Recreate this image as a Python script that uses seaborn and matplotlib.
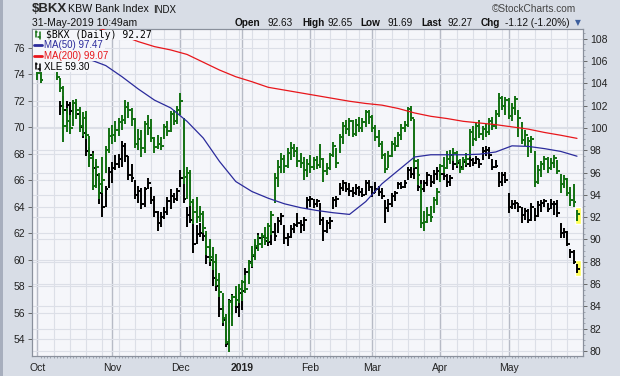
import numpy as np
import pandas as pd
import matplotlib.pyplot as plt
import seaborn as sns
from matplotlib.patches import Rectangle
from matplotlib.lines import Line2D

sns.set_theme(style='white')
plt.rcParams['font.family'] = ['Liberation Sans', 'DejaVu Sans']

# trading days shown on the chart (NYSE closed days removed)
holidays = pd.to_datetime(['2018-11-22', '2018-12-05', '2018-12-25', '2019-01-01',
                           '2019-01-21', '2019-02-18', '2019-04-19', '2019-05-27'])
days = pd.bdate_range('2018-10-01', '2019-05-31')
days = days[~days.isin(holidays)]

# $BKX daily bars (right axis)
bkx_low = [104.3, 104.0, 105.2, 105.3, 105.2, 105.1, 104.3, 103.2, 98.7, 99.6,
           99.5, 100.2, 100.8, 99.6, 99.3, 99.0, 96.5, 94.4, 94.6, 93.6,
           94.2, 96.0, 97.8, 98.6, 98.7, 99.3, 99.8, 100.4, 100.9, 100.2,
           98.2, 98.0, 97.4, 97.8, 99.4, 98.7, 97.8, 98.1, 98.0, 99.0,
           99.3, 99.6, 100.3, 100.4, 101.2, 95.0, 93.6, 93.0, 91.4, 91.5,
           91.6, 90.6, 88.6, 88.0, 87.3, 85.8, 84.8, 82.5, 80.6, 79.9,
           82.2, 84.0, 84.3, 84.5, 85.2, 86.0, 87.5, 88.2, 89.0, 89.2,
           89.5, 89.8, 90.4, 93.3, 94.7, 96.0, 96.0, 96.4, 97.1, 97.4,
           96.5, 96.4, 95.3, 95.6, 96.0, 96.2, 96.3, 96.4, 95.2, 95.8,
           96.2, 97.4, 96.4, 97.8, 98.6, 99.5, 99.3, 99.2, 99.3, 99.6,
           99.6, 100.1, 100.4, 99.6, 98.8, 98.3, 97.2, 96.0, 96.4, 97.4,
           97.9, 98.3, 98.9, 99.6, 100.1, 100.6, 96.4, 94.9, 91.0, 90.8,
           91.5, 91.6, 92.4, 93.1, 95.2, 96.0, 96.3, 96.8, 97.0, 96.6,
           96.0, 96.2, 96.7, 97.4, 98.4, 98.8, 99.1, 98.9, 99.2, 99.4,
           99.8, 99.9, 101.0, 101.6, 101.2, 100.8, 100.6, 101.2, 99.2, 98.6,
           98.4, 97.4, 97.8, 94.7, 95.0, 95.6, 96.2, 96.0, 96.2, 96.4,
           95.9, 94.2, 94.6, 93.9, 93.0, 92.9, 91.69]
bkx_high = [105.6, 105.3, 106.3, 106.6, 106.2, 105.9, 105.5, 104.5, 103.8, 101.8,
            101.2, 102.5, 102.6, 101.9, 101.4, 101.5, 99.3, 97.8, 97.2, 96.0,
            97.4, 98.4, 100.0, 100.3, 100.6, 100.9, 101.2, 102.5, 102.3, 101.8,
            100.9, 99.9, 99.8, 100.6, 101.2, 100.8, 99.2, 99.4, 99.2, 100.4,
            100.6, 101.5, 101.6, 102.0, 103.1, 100.9, 96.5, 96.2, 93.6, 93.8,
            93.0, 92.6, 90.8, 90.0, 89.3, 88.7, 87.0, 85.2, 83.3, 84.6,
            85.0, 85.8, 86.0, 86.4, 86.8, 88.2, 89.4, 90.0, 90.4, 90.6,
            91.1, 91.5, 92.6, 96.0, 97.1, 97.8, 97.6, 98.2, 98.7, 98.6,
            98.3, 97.8, 97.4, 97.2, 97.6, 97.4, 97.5, 98.6, 97.3, 96.9,
            97.8, 98.7, 98.2, 99.5, 100.5, 100.7, 100.9, 100.7, 100.8, 101.0,
            100.9, 101.6, 101.6, 101.2, 100.3, 99.8, 98.8, 97.8, 97.9, 98.8,
            99.2, 99.6, 100.4, 100.6, 101.9, 102.0, 100.8, 97.2, 95.0, 92.6,
            92.9, 93.0, 93.8, 94.6, 96.8, 97.4, 97.9, 98.0, 98.2, 97.9,
            97.2, 97.4, 97.8, 99.9, 100.2, 100.5, 100.7, 100.2, 100.4, 100.9,
            101.0, 101.6, 103.1, 102.9, 102.8, 102.7, 102.2, 102.9, 101.6, 100.5,
            99.8, 99.2, 99.3, 97.9, 96.7, 97.0, 97.5, 97.4, 97.3, 97.6,
            97.1, 95.9, 95.8, 95.5, 94.7, 95.0, 92.65]
bkx_close = [104.9, 104.3, 105.9, 106.0, 105.6, 105.4, 104.6, 103.6, 100.2, 100.6,
             100.0, 102.2, 101.6, 100.2, 100.9, 99.4, 97.3, 94.8, 96.5, 95.0,
             95.3, 98.0, 99.3, 99.4, 99.8, 100.5, 100.7, 101.9, 101.6, 100.8,
             98.6, 99.0, 98.2, 100.4, 100.0, 99.1, 98.3, 98.6, 98.4, 100.1,
             99.7, 101.3, 100.6, 101.6, 102.4, 95.6, 96.0, 93.4, 92.5, 92.0,
             92.3, 91.0, 89.3, 88.4, 88.0, 86.4, 85.3, 83.0, 80.8, 84.4,
             84.8, 84.6, 85.6, 86.2, 85.6, 87.9, 88.6, 89.4, 89.6, 90.3,
             90.1, 91.2, 92.2, 95.5, 96.5, 97.2, 96.6, 97.8, 98.2, 97.9,
             97.0, 96.9, 96.2, 96.8, 96.5, 97.1, 96.7, 97.2, 96.1, 96.4,
             97.6, 98.4, 96.9, 99.2, 100.2, 99.9, 100.6, 99.5, 100.3, 100.0,
             100.5, 101.4, 101.0, 100.0, 99.2, 98.6, 97.6, 96.3, 97.5, 98.6,
             98.4, 99.4, 100.0, 100.3, 101.7, 100.9, 97.0, 95.8, 91.5, 91.6,
             92.2, 92.0, 93.5, 94.3, 96.6, 96.4, 97.2, 97.6, 97.8, 97.0,
             96.3, 97.1, 97.2, 99.6, 99.0, 100.2, 99.5, 99.9, 99.6, 100.6,
             100.2, 101.3, 102.7, 102.0, 102.5, 101.1, 101.8, 102.6, 100.9, 98.9,
             99.4, 98.8, 99.0, 95.2, 96.2, 96.8, 97.2, 96.4, 96.9, 97.3,
             96.1, 95.0, 95.4, 94.2, 93.5, 93.4, 92.27]

# XLE daily bars (left axis)
xle_low = [74.6, 74.9, 75.4, 75.3, 75.0, 74.8, 74.6, 70.9, 71.0, 71.0,
           70.9, 71.0, 70.6, 69.8, 69.2, 67.8, 67.0, 66.6, 65.6, 64.2,
           63.2, 64.0, 65.4, 65.8, 66.8, 66.9, 67.0, 67.4, 66.0, 65.9,
           64.6, 64.3, 63.8, 64.0, 65.3, 64.2, 63.2, 62.2, 62.5, 63.1,
           63.4, 63.8, 64.3, 64.4, 65.5, 64.3, 62.5, 62.8, 60.5, 61.2,
           61.7, 61.4, 59.7, 59.5, 58.0, 57.6, 55.7, 55.0, 53.4, 55.2,
           55.8, 56.0, 55.7, 56.2, 58.2, 58.9, 59.4, 60.1, 61.0, 61.2,
           61.1, 61.0, 61.1, 61.4, 62.0, 62.6, 61.2, 61.0, 61.6, 62.0,
           62.5, 62.0, 62.2, 63.8, 64.0, 63.9, 64.0, 62.6, 61.4, 62.0,
           62.3, 63.8, 64.0, 64.9, 65.2, 65.1, 64.8, 64.7, 64.9, 64.8,
           64.7, 64.9, 65.2, 64.7, 65.0, 64.8, 64.6, 62.8, 63.6, 64.0,
           64.4, 65.3, 65.3, 65.4, 66.0, 66.2, 66.1, 65.2, 65.0, 65.1,
           65.6, 65.5, 65.7, 66.0, 66.3, 66.0, 65.5, 65.6, 66.8, 66.9,
           66.8, 66.9, 67.0, 67.0, 67.1, 67.2, 66.9, 67.5, 67.8, 67.6,
           66.8, 66.9, 65.5, 65.6, 65.8, 63.5, 63.8, 63.8, 63.6, 62.8,
           63.0, 62.8, 62.9, 62.9, 63.2, 63.6, 64.0, 63.6, 63.8, 63.4,
           63.2, 61.6, 61.6, 61.0, 60.1, 59.7, 59.0]
xle_high = [75.6, 75.8, 76.6, 76.4, 76.0, 75.7, 75.6, 72.0, 72.4, 72.0,
            71.9, 72.1, 71.8, 71.2, 70.6, 69.8, 68.5, 68.2, 67.4, 66.2,
            65.8, 65.6, 67.0, 67.4, 67.9, 68.0, 69.0, 68.8, 67.8, 67.2,
            66.0, 65.6, 65.4, 65.5, 66.2, 65.5, 64.8, 63.7, 63.6, 64.0,
            64.7, 65.3, 65.0, 65.4, 66.8, 66.0, 64.0, 64.3, 63.0, 62.6,
            62.8, 62.7, 62.0, 61.0, 60.0, 59.3, 57.9, 56.6, 55.3, 57.0,
            57.4, 57.5, 57.7, 57.8, 59.4, 60.0, 60.7, 61.2, 62.0, 62.0,
            61.9, 62.0, 62.4, 62.8, 63.2, 63.5, 62.6, 62.0, 62.6, 62.8,
            63.5, 63.0, 63.2, 64.7, 64.8, 64.6, 64.6, 64.3, 63.2, 63.0,
            63.2, 64.7, 64.8, 65.8, 66.0, 65.9, 65.8, 65.5, 65.7, 65.6,
            65.4, 66.0, 66.0, 65.6, 65.9, 65.6, 65.4, 64.5, 64.6, 65.0,
            65.2, 65.9, 65.9, 66.0, 67.0, 67.0, 67.1, 66.2, 66.0, 66.0,
            66.6, 66.4, 66.8, 67.0, 67.0, 66.8, 66.5, 66.4, 67.5, 67.5,
            67.4, 67.5, 67.6, 67.8, 67.7, 67.8, 67.6, 68.5, 68.6, 68.5,
            67.6, 67.5, 66.6, 66.6, 66.6, 65.0, 64.5, 64.5, 64.3, 64.0,
            63.9, 63.8, 64.3, 63.9, 64.4, 64.5, 64.6, 64.3, 64.6, 64.4,
            64.5, 62.8, 62.4, 62.2, 60.8, 60.7, 59.7]
xle_close = [75.2, 75.6, 76.3, 75.7, 75.4, 75.3, 74.9, 71.6, 71.3, 71.7,
             71.2, 71.8, 71.0, 70.0, 69.6, 68.2, 67.9, 66.9, 66.4, 65.0,
             64.0, 65.3, 66.6, 66.9, 67.2, 67.6, 68.6, 67.8, 66.4, 66.2,
             64.9, 65.2, 64.2, 65.3, 65.8, 64.5, 63.6, 62.8, 63.2, 63.6,
             64.4, 64.8, 64.6, 65.2, 66.2, 64.6, 63.4, 63.0, 61.2, 61.9,
             62.0, 61.8, 60.2, 60.0, 58.6, 58.0, 56.3, 55.4, 53.6, 56.9,
             57.2, 56.4, 57.5, 57.6, 59.1, 59.8, 60.3, 60.9, 61.6, 61.7,
             61.4, 61.3, 62.1, 61.8, 62.9, 63.3, 61.6, 61.7, 62.3, 62.6,
             62.8, 62.6, 63.0, 64.5, 64.6, 64.2, 64.4, 63.0, 62.2, 62.8,
             62.9, 64.5, 64.6, 65.4, 65.8, 65.3, 65.2, 65.0, 65.4, 65.1,
             64.9, 65.8, 65.5, 65.0, 65.3, 65.1, 64.8, 63.9, 64.2, 64.8,
             65.0, 65.7, 65.5, 65.8, 66.8, 66.5, 66.9, 65.5, 65.3, 65.8,
             66.4, 65.9, 66.5, 66.7, 66.5, 66.3, 65.9, 66.2, 67.2, 67.3,
             67.0, 67.4, 67.2, 67.5, 67.3, 67.6, 67.2, 68.2, 68.3, 67.9,
             67.0, 67.1, 65.9, 66.4, 66.0, 64.0, 64.2, 64.3, 64.0, 63.4,
             63.7, 63.0, 64.0, 63.3, 64.1, 64.3, 64.4, 63.8, 64.2, 64.2,
             63.5, 62.0, 62.1, 61.2, 60.6, 59.8, 59.3]

# moving averages of $BKX, read every 5th bar starting at bar 1
ma50 = [107.4, 107.0, 106.6, 106.15, 105.6, 104.6, 103.5, 102.5, 101.8, 100.6,
        99.1, 97.0, 95.2, 94.3, 93.7, 93.2, 92.85, 92.6, 92.4, 92.25,
        93.4, 95.0, 96.2, 97.4, 97.6, 97.6, 97.6, 97.65, 97.85, 98.4,
        98.35, 98.15, 97.9, 97.47]
ma200 = [110.2, 109.9, 109.6, 109.2, 108.75, 108.3, 107.75, 107.3, 107.0, 106.6,
         105.9, 105.2, 104.6, 104.15, 103.65, 103.4, 103.15, 102.9, 102.65, 102.4,
         102.2, 102.05, 101.75, 101.35, 101.05, 100.85, 100.6, 100.45, 100.3, 100.1,
         99.9, 99.6, 99.35, 99.07]

month_labels = ['Oct', 'Nov', 'Dec', '2019', 'Feb', 'Mar', 'Apr', 'May']

GREEN = '#127012'
BLUE = '#2b2b9c'
RED = '#e8161b'
BG = '#d8dde6'
PANEL = '#f5f6fa'
W, H = 620, 376

def fx(px):
    return px / W

def fy(py):
    return 1 - py / H

n = len(days)
x = np.arange(n)
ylimL = (52.715, 77.43)
ylimR = (79.55, 108.88)

fig = plt.figure(figsize=(6.2, 3.76), dpi=100, facecolor=BG)
ax = fig.add_axes([fx(32), fy(356), 551 / W, 327 / H])
ax.set_facecolor(PANEL)
ax2 = ax.twinx()

# vertical grid: weekly light, month starts darker
wk = days.isocalendar().week.to_numpy()
week_start = np.r_[True, wk[1:] != wk[:-1]]
month_start = np.r_[True, days.month[1:] != days.month[:-1]]
for i in x[week_start]:
    ax.axvline(i, color='#dcdfe7', lw=0.8, zorder=0)
for i in x[month_start]:
    ax.axvline(i, color='#b7bbc6', lw=1.0, zorder=0)

# horizontal grid at left ticks and at right ticks
for v in range(54, 77, 2):
    ax.axhline(v, color='#dcdfe7', lw=0.8, zorder=0)
for v in range(80, 109, 2):
    vl = ylimL[0] + (v - ylimR[0]) * (ylimL[1] - ylimL[0]) / (ylimR[1] - ylimR[0])
    ax.axhline(vl, color='#dcdfe7', lw=0.8, zorder=0)

# XLE bars
ax.vlines(x, xle_low, xle_high, color='black', lw=1.4, zorder=3)
ax.hlines(xle_close, x, x + 0.8, color='black', lw=1.4, zorder=3)
ax.bar(x[-1] + 0.2, xle_high[-1] - xle_low[-1] + 0.5, bottom=xle_low[-1] - 0.25,
       width=1.9, color='#ffff55', zorder=2)

# $BKX bars and averages
ax2.bar(x[-1] + 0.2, bkx_high[-1] - bkx_low[-1] + 0.6, bottom=bkx_low[-1] - 0.3,
        width=1.9, color='#ffff55', zorder=1)
ax2.vlines(x, bkx_low, bkx_high, color=GREEN, lw=1.4, zorder=3)
ax2.hlines(bkx_close, x, x + 0.8, color=GREEN, lw=1.4, zorder=3)
ma_x = np.arange(1, n, 5)
sns.lineplot(x=ma_x, y=ma200, ax=ax2, color=RED, lw=0.9, zorder=4)
sns.lineplot(x=ma_x, y=ma50, ax=ax2, color=BLUE, lw=0.9, zorder=4)

ax.set_xlim(-1.69, 167.85)
ax.set_ylim(*ylimL)
ax2.set_ylim(*ylimR)
ax.set_yticks(range(54, 77, 2))
ax2.set_yticks(range(80, 109, 2))
ax.set_xticks(x[month_start])
ax.set_xticklabels(month_labels)
ax.set_xticks(x, minor=True)
for lab in ax.get_xticklabels():
    if lab.get_text() == '2019':
        lab.set_fontweight('bold')
ax.tick_params(axis='x', which='major', length=0, pad=5, labelsize=7.5, labelcolor='#222')
ax.tick_params(axis='x', which='minor', bottom=True, length=1.5, width=0.5, color='#8a909c')
ax.tick_params(axis='y', left=True, length=3, width=0.6, pad=2, labelsize=7.5,
               color='#555', labelcolor='#222')
ax2.tick_params(axis='y', right=True, length=3, width=0.6, pad=2, labelsize=7.5,
                color='#555', labelcolor='#222')
ax2.set_yticks(np.arange(80, 108.9, 0.5), minor=True)
ax2.tick_params(axis='y', which='minor', right=True, length=1.5, width=0.5, color='#8a909c')
ax.set_xlabel('')
ax.set_ylabel('')
ax2.set_ylabel('')
for a in (ax, ax2):
    for s in a.spines.values():
        s.set_color('#8a909c')
        s.set_linewidth(0.8)

# legend rows (opaque, hide what is under them)
rows = [(29.5, 39.5, 151), (39.5, 50.5, 105), (50.5, 61, 110), (61, 72, 89)]
for top, bot, right in rows:
    fig.add_artist(Rectangle((fx(32.5), fy(bot)), fx(right - 32.5), (bot - top) / H,
                             transform=fig.transFigure, facecolor=PANEL,
                             edgecolor='none', zorder=5))

def bar_icon(yc, color):
    # tiny two-bar glyph used by the chart legend
    for x0, ya, yb, tick in ((35.5, yc - 4, yc + 2.5, 1.8), (39.5, yc - 2.5, yc + 4, -1.8)):
        fig.add_artist(Line2D([fx(x0), fx(x0)], [fy(yb), fy(ya)], color=color, lw=1.1,
                              transform=fig.transFigure, zorder=6))
        yt = ya + 1.5 if tick > 0 else yb - 1.5
        fig.add_artist(Line2D([fx(x0), fx(x0 + tick)], [fy(yt), fy(yt)], color=color, lw=1.1,
                              transform=fig.transFigure, zorder=6))

bar_icon(34.5, GREEN)
fig.text(fx(46), fy(34.5), '\\$BKX (Daily) 92.27', color='black', fontsize=7,
         va='center', family=['DejaVu Sans Mono'], zorder=6)
fig.add_artist(Line2D([fx(34), fx(42)], [fy(45), fy(45)], color=BLUE, lw=2,
                      transform=fig.transFigure, zorder=6))
fig.text(fx(44.5), fy(45.3), 'MA(50) 97.47', color=BLUE, fontsize=7,
         va='center', zorder=6)
fig.add_artist(Line2D([fx(34), fx(42)], [fy(56), fy(56)], color=RED, lw=2,
                      transform=fig.transFigure, zorder=6))
fig.text(fx(44.5), fy(56.3), 'MA(200) 99.07', color=RED, fontsize=7,
         va='center', zorder=6)
bar_icon(66.5, 'black')
fig.text(fx(44.5), fy(66.5), 'XLE 59.30', color='black', fontsize=7,
         va='center', zorder=6)

# header
fig.text(fx(32), fy(9.5), '\\$BKX', fontsize=9.5, fontweight='bold', va='center')
fig.text(fx(68), fy(9.5), 'KBW Bank Index', fontsize=7.7, va='center', color='#111')
fig.text(fx(153), fy(10), 'INDX', fontsize=7, va='center', color='#111')
fig.text(fx(32), fy(22.5), '31-May-2019 10:49am', fontsize=7.5, va='center', color='#111')
fig.text(fx(492), fy(9), '©StockCharts.com', fontsize=7.3, va='center', color='#444')
info = [(235, 'Open', True), (267, '92.63', False), (302, 'High', True), (327, '92.65', False),
        (360, 'Low', True), (387, '91.69', False), (421, 'Last', True), (447, '92.27', False),
        (481, 'Chg', True), (505, '-1.12 (-1.20%)', False)]
for px, txt, bold in info:
    fig.text(fx(px), fy(22.5), txt, fontsize=7.2, va='center', color='#111',
             fontweight='bold' if bold else 'normal')
fig.text(fx(575), fy(22.5), '▼', fontsize=5.5, va='center', color='#3d5f9e',
         family=['DejaVu Sans'])

fig.add_artist(Rectangle((0, 0), fx(3), 1, transform=fig.transFigure,
                         facecolor='#a7aebd', edgecolor='none'))

fig.savefig('out.png', dpi=100, facecolor=BG)
